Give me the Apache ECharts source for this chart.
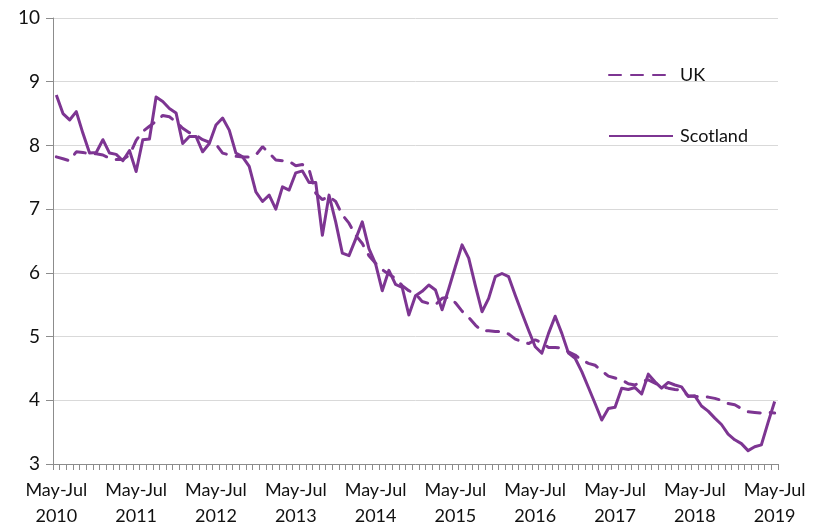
<!DOCTYPE html>
<html>
<head>
<meta charset="utf-8">
<script src="https://cdn.jsdelivr.net/npm/echarts@6/dist/echarts.min.js"></script>
<style>html,body{margin:0;padding:0;background:#fff}#c{width:826px;height:530px}</style>
</head>
<body>
<div id="c"></div>
<script>
// Rolling three-month periods, May-Jul 2010 .. May-Jul 2019
const periodNames = ['May-Jul','Jun-Aug','Jul-Sep','Aug-Oct','Sep-Nov','Oct-Dec','Nov-Jan','Dec-Feb','Jan-Mar','Feb-Apr','Mar-May','Apr-Jun'];
const startYears = [2010,2011,2012,2013,2014,2015,2016,2017,2018,2019];
const yTicks = [3,4,5,6,7,8,9,10];

const uk = [
7.82,7.79,7.76,7.90,7.89,7.87,7.87,7.85,7.80,7.78,7.78,7.85,
8.08,8.22,8.30,8.38,8.47,8.45,8.37,8.27,8.20,8.16,8.09,8.05,
8.02,7.88,7.85,7.83,7.82,7.82,7.85,7.98,7.88,7.77,7.76,7.75,
7.68,7.70,7.62,7.25,7.15,7.20,7.12,6.91,6.78,6.59,6.46,6.27,
6.15,6.05,5.98,5.91,5.80,5.72,5.67,5.55,5.52,5.50,5.60,5.62,
5.53,5.40,5.30,5.18,5.09,5.09,5.08,5.08,5.04,4.96,4.92,4.89,
4.95,4.90,4.83,4.83,4.82,4.76,4.71,4.63,4.58,4.55,4.46,4.38,
4.35,4.32,4.26,4.24,4.30,4.32,4.27,4.22,4.19,4.17,4.16,4.07,
4.06,4.06,4.05,4.03,4.00,3.95,3.93,3.87,3.82,3.81,3.80,3.81,
3.80];

const scotland = [
8.79,8.50,8.40,8.53,8.19,7.88,7.89,8.09,7.88,7.86,7.76,7.92,
7.59,8.09,8.10,8.76,8.69,8.58,8.51,8.03,8.14,8.14,7.90,8.03,
8.32,8.43,8.24,7.88,7.82,7.67,7.27,7.12,7.22,7.00,7.35,7.30,
7.57,7.60,7.42,7.42,6.59,7.22,6.80,6.31,6.27,6.53,6.80,6.38,
6.14,5.72,6.04,5.82,5.77,5.34,5.64,5.71,5.81,5.73,5.42,5.75,
6.10,6.44,6.23,5.80,5.39,5.60,5.94,5.99,5.94,5.65,5.37,5.10,
4.84,4.74,5.05,5.32,5.05,4.74,4.66,4.45,4.20,3.95,3.69,3.87,
3.89,4.19,4.17,4.20,4.10,4.41,4.29,4.19,4.28,4.24,4.21,4.06,
4.07,3.91,3.83,3.72,3.62,3.47,3.38,3.32,3.21,3.27,3.30,3.65,
3.98];

const categories = [];
for (let k = 0; k < uk.length; k++) {
  const p = periodNames[k % 12];
  const y = startYears[Math.floor(k / 12)];
  const endYear = (k % 12) >= 7 ? y + 1 : y;
  categories.push(p + ' ' + endYear);
}

const purple = '#7d3592';
const font = 'Lato, "Open Sans", sans-serif';
const chart = echarts.init(document.getElementById('c'), null, {renderer: 'canvas'});
chart.setOption({
  animation: false,
  backgroundColor: '#fff',
  grid: {left: 53, right: 48, top: 18, bottom: 66, containLabel: false},
  legend: {
    orient: 'vertical',
    left: 603, top: 61,
    itemWidth: 64, itemHeight: 14, itemGap: 43,
    itemStyle: {color: 'rgba(0,0,0,0)', borderWidth: 0, opacity: 0},
    textStyle: {fontFamily: font, fontSize: 18, color: '#111', padding: [0,0,0,2]},
    data: ['UK', 'Scotland']
  },
  xAxis: {
    type: 'category',
    data: categories,
    boundaryGap: true,
    axisLine: {lineStyle: {color: '#8c8c8c', width: 1}},
    axisTick: {show: true, interval: 0, length: 6, lineStyle: {color: '#8c8c8c'}},
    axisLabel: {
      interval: 11,
      margin: 13,
      fontFamily: font, fontSize: 18, color: '#111', lineHeight: 26,
      formatter: v => v.replace(' ', '\n')
    },
    splitLine: {show: false}
  },
  yAxis: {
    type: 'value',
    min: yTicks[0], max: yTicks[yTicks.length - 1], interval: 1,
    axisLine: {show: true, lineStyle: {color: '#8c8c8c', width: 1}},
    axisTick: {show: true, length: 7, lineStyle: {color: '#8c8c8c'}},
    axisLabel: {margin: 13, fontFamily: font, fontSize: 19, color: '#111'},
    splitLine: {lineStyle: {color: '#d9d9d9', width: 1}}
  },
  series: [
    {
      name: 'UK', type: 'line', data: uk, symbol: 'none', smooth: false,
      lineStyle: {color: purple, width: 3, type: [12, 10], cap: 'round'},
      itemStyle: {color: purple}
    },
    {
      name: 'Scotland', type: 'line', data: scotland, symbol: 'none', smooth: false,
      lineStyle: {color: purple, width: 3, join: 'round'},
      itemStyle: {color: purple}
    }
  ]
});
</script>
</body>
</html>
